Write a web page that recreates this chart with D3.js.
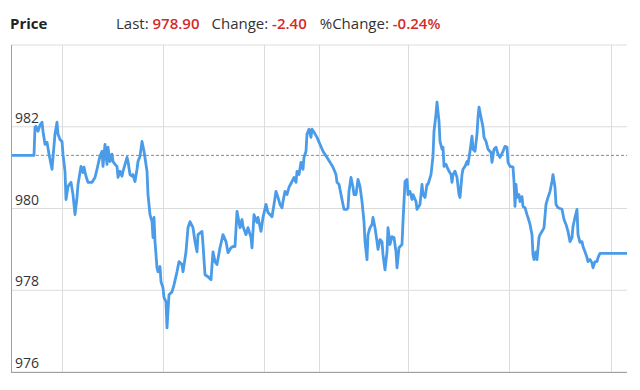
<!DOCTYPE html>
<html>
<head>
<meta charset="utf-8">
<script src="https://cdn.jsdelivr.net/npm/d3@7"></script>
<style>
  body { margin: 0; background: #fff; }
</style>
</head>
<body>
<div id="chart"></div>
<script>
// intraday price chart

// header values
const lastPrice = "978.90";
const changeValue = "-2.40";
const changePct = "-0.24%";

// previous close (dotted reference line)
const prevClose = 981.30;

// y axis ticks
const yTicks = [976, 978, 980, 982];
const yDomain = [976, 984];

// vertical grid positions (bar index)
const xGrid = [51, 152, 253, 308, 397, 498, 600];
const xDomain = [0, 616];

// [bar index, price]
const priceSeries = [
  [0,981.30],[23,981.30],[24,981.99],[25,982.01],[27,981.89],[29,982.04],[31,982.11],[32,981.89],
  [34,981.57],[36,981.62],[38,981.33],[40,981.08],[41,980.96],[42,981.25],[44,981.82],[46,982.11],
  [47,981.82],[49,981.69],[51,981.64],[52,981.33],[54,980.91],[55,980.22],[57,980.54],[60,980.64],
  [62,980.34],[64,979.85],[66,980.27],[67,980.59],[70,981.03],[72,980.88],[73,981.01],[75,980.79],
  [77,980.64],[81,980.64],[84,980.76],[86,980.96],[89,981.28],
  [91,981.40],[92,981.03],[94,981.57],[96,981.08],[97,981.50],[99,981.15],[101,981.33],[102,981.15],
  [104,981.08],[106,981.03],[107,980.76],[109,980.91],[111,980.79],[112,980.91],[114,981.08],[116,981.25],
  [117,981.15],[119,980.83],[121,980.79],[122,980.83],[124,980.66],[126,980.96],[127,981.15],[129,981.28],
  [131,981.64],[133,981.40],[136,980.91],[137,980.34],[139,979.85],[141,979.68],[142,979.29],[143,979.78],
  [144,979.19],[146,978.55],[147,978.45],[149,978.58],[150,978.21],[152,978.06],[153,977.82],[155,977.72],
  [156,977.08],[158,977.89],[161,977.96],[163,978.13],[166,978.45],[168,978.70],[171,978.63],[172,978.45],
  [175,978.94],[177,979.53],[179,979.68],
  [182,979.53],[184,979.19],[186,978.94],[187,979.36],[191,979.44],[192,979.12],[194,978.38],[197,978.33],
  [200,978.26],[202,978.94],[204,978.70],[206,978.63],[209,979.04],[212,979.36],[215,979.19],[217,978.92],
  [220,979.04],[222,979.07],[224,979.07],[226,979.93],[229,979.53],[231,979.73],[232,979.56],[235,979.36],
  [237,979.53],[240,979.29],[241,979.04],[243,979.85],[246,979.66],[247,979.78],[250,979.44],[252,979.78],
  [255,980.10],[257,979.90],[261,979.80],[263,980.10],[265,980.42],[267,980.27],[269,980.10],
  [271,980.02],[272,980.17],[274,980.42],[276,980.34],[278,980.52],[281,980.66],[283,980.76],[285,980.64],
  [286,980.91],[288,980.83],[290,981.13],[292,980.96],[293,981.25],[295,981.40],[296,981.82],[298,981.94],
  [300,981.74],[301,981.94],[303,981.87],[306,981.74],[309,981.57],[312,981.40],[316,981.25],[319,981.13],
  [322,981.01],[325,980.83],[326,980.64],[328,980.59],[330,980.34],[332,980.10],[333,979.98],[336,979.98],
  [337,980.02],[338,980.42],[340,980.76],[342,980.52],[343,980.34],[345,980.34],[347,980.71],[349,980.54],
  [351,980.17],[353,979.68],[354,979.19],[356,978.75],[357,979.36],[359,979.53],
  [361,979.61],[362,979.78],[364,979.53],[366,979.19],[367,979.00],[369,979.24],[371,979.19],[372,978.87],
  [374,978.50],[376,978.94],[377,979.53],[379,979.12],[381,979.31],[383,979.29],[385,978.94],[386,978.55],
  [388,979.04],[391,979.12],[392,979.68],[394,980.66],[396,980.71],[397,980.34],[399,980.42],[401,980.22],
  [402,980.34],[405,980.17],[406,979.98],[409,980.10],[411,980.59],[412,980.34],[414,980.27],[416,980.59],
  [417,980.59],[420,980.83],[422,981.28],[423,981.89],[425,982.31],[426,982.60],[428,982.13],[429,981.64],
  [431,981.45],[432,981.50],[433,981.03],[435,981.08],[437,980.96],[440,980.83],[441,980.64],[442,980.83],
  [444,980.91],[446,980.76],[448,980.34],
  [449,980.27],[451,980.83],[452,980.96],[454,981.03],[456,981.15],[457,981.08],[459,981.40],[461,981.77],
  [462,981.45],[464,981.40],[466,981.82],[467,982.23],[468,982.48],[470,982.23],[472,981.99],[473,981.74],
  [475,981.64],[477,981.45],[480,981.37],[481,981.13],[483,981.45],[485,981.50],[487,981.33],[489,981.25],
  [492,981.40],[494,981.52],[496,981.50],[497,981.13],[499,981.03],[502,981.01],[503,980.66],[504,980.05],
  [505,980.59],[506,980.27],[508,980.34],[509,980.17],[511,980.29],[512,980.05],[514,980.02],[516,979.85],
  [517,979.78],[519,979.61],[521,979.36],[522,978.87],[523,978.75],[525,978.94],[526,978.75],[528,979.29],
  [529,979.36],[532,979.48],[533,979.53],[535,980.10],[537,980.27],[539,980.42],
  [541,980.66],[542,980.83],[544,980.52],[545,980.10],[547,980.02],[551,979.98],[553,979.73],[555,979.61],
  [557,979.44],[559,979.19],[561,979.29],[562,979.56],[564,979.78],[566,979.98],[567,979.36],[569,979.17],
  [571,979.19],[572,979.07],[574,978.94],[576,978.80],[577,978.70],[579,978.75],[581,978.67],[582,978.55],
  [584,978.70],[586,978.70],[587,978.80],[589,978.90],[616,978.90]
];

function createPriceChart() {
  const margin = { top: 45, right: 13, bottom: 18, left: 11 },
    width = 640 - margin.left - margin.right,
    height = 390 - margin.top - margin.bottom;

  const svg = d3.select("#chart")
    .append("svg")
    .attr("width", 640)
    .attr("height", 390)
    .style("font-family", "'Open Sans', 'Noto Sans', sans-serif");

  // Header
  svg.append("text")
    .attr("x", 10)
    .attr("y", 29)
    .style("font-size", "15px")
    .style("font-weight", "bold")
    .style("fill", "#222")
    .text("Price");

  const header = svg.append("text")
    .attr("x", 116)
    .attr("y", 29)
    .style("font-size", "15px")
    .style("fill", "#333");
  header.append("tspan").text("Last: ");
  header.append("tspan").style("fill", "#d42a2a").style("font-weight", "600").text(lastPrice);
  header.append("tspan").attr("dx", 12).text("Change: ");
  header.append("tspan").style("fill", "#d42a2a").style("font-weight", "600").text(changeValue);
  header.append("tspan").attr("dx", 13).text("%Change: ");
  header.append("tspan").style("fill", "#d42a2a").style("font-weight", "600").text(changePct);

  const g = svg.append("g")
    .attr("transform", `translate(${margin.left},${margin.top})`);

  // Scales
  const xScale = d3.scaleLinear().domain(xDomain).range([0, width]);
  const yScale = d3.scaleLinear().domain(yDomain).range([height, 0]);

  // Horizontal grid
  g.append("g")
    .selectAll("line")
    .data(yTicks.concat([yDomain[1]]))
    .enter()
    .append("line")
    .attr("x1", 0)
    .attr("x2", width)
    .attr("y1", d => yScale(d))
    .attr("y2", d => yScale(d))
    .style("stroke", "#dcdcdc")
    .style("stroke-width", 1);

  // Vertical grid
  g.append("g")
    .selectAll("line")
    .data(xGrid)
    .enter()
    .append("line")
    .attr("x1", d => Math.round(xScale(d)) + 0.5)
    .attr("x2", d => Math.round(xScale(d)) + 0.5)
    .attr("y1", 0)
    .attr("y2", height)
    .style("stroke", "#dcdcdc")
    .style("stroke-width", 1);

  // Previous close reference
  g.append("line")
    .attr("x1", 0)
    .attr("x2", width)
    .attr("y1", yScale(prevClose))
    .attr("y2", yScale(prevClose))
    .style("stroke", "#8a8a8a")
    .style("stroke-width", 1)
    .style("stroke-dasharray", "3,2");

  // Y axis labels (inside plot, above grid lines)
  g.append("g")
    .selectAll("text")
    .data(yTicks)
    .enter()
    .append("text")
    .attr("x", 4)
    .attr("y", d => yScale(d) - 4)
    .style("font-size", "14px")
    .style("fill", "#333")
    .text(d => d);

  // Price line
  const line = d3.line()
    .x(d => xScale(d[0]))
    .y(d => yScale(d[1]));

  g.append("path")
    .datum(priceSeries)
    .attr("d", line)
    .style("fill", "none")
    .style("stroke", "#4a9be8")
    .style("stroke-width", 2.8)
    .style("stroke-linejoin", "round");

  // Frame: left and bottom
  g.append("line")
    .attr("x1", 0.5).attr("x2", 0.5)
    .attr("y1", 0).attr("y2", height)
    .style("stroke", "#a0a0a0");
  g.append("line")
    .attr("x1", 0).attr("x2", width)
    .attr("y1", height + 0.5).attr("y2", height + 0.5)
    .style("stroke", "#a0a0a0");
}

createPriceChart();
</script>
</body>
</html>
